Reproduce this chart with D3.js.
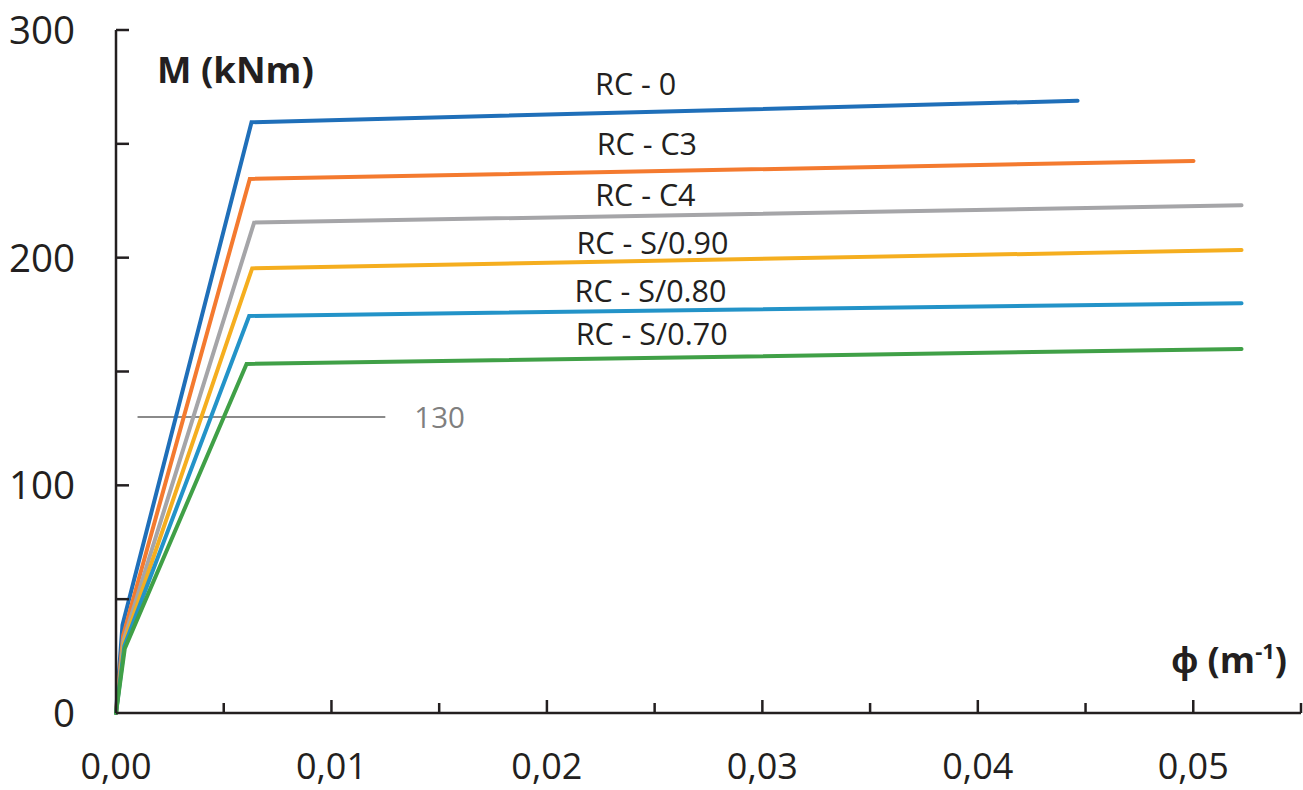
<!DOCTYPE html>
<html>
<head>
<meta charset="utf-8">
<script src="https://cdn.jsdelivr.net/npm/d3@7"></script>
<style>
  html, body { margin: 0; padding: 0; background: #fff; }
  svg { display: block; font-family: "Open Sans", sans-serif; }
</style>
</head>
<body>
<svg id="chart" width="1303" height="790"></svg>
<script>
// ---- data ----
const seriesNames = ["RC - 0", "RC - C3", "RC - C4", "RC - S/0.90", "RC - S/0.80", "RC - S/0.70"];
const seriesColors = ["#1f6fb9", "#f47a2f", "#a5a5a8", "#f5ae1f", "#2393c8", "#40a047"];
// curvature points (m^-1) per series: origin, cracking, yield, ultimate
const phiRC0   = [0, 0.00030, 0.00629, 0.04463];
const mRC0     = [0, 38.6, 259.5, 268.9];
const phiRCC3  = [0, 0.00033, 0.00621, 0.05001];
const mRCC3    = [0, 34, 234.6, 242.5];
const phiRCC4  = [0, 0.00035, 0.00641, 0.05224];
const mRCC4    = [0, 32, 215.4, 223.0];
const phiS090  = [0, 0.00037, 0.00632, 0.05224];
const mS090    = [0, 30.5, 195.3, 203.4];
const phiS080  = [0, 0.00039, 0.00618, 0.05224];
const mS080    = [0, 29.5, 174.4, 180.0];
const phiS070  = [0, 0.00041, 0.00606, 0.05224];
const mS070    = [0, 28.4, 153.3, 159.9];
// label anchor (data coords)
const labelPhi = [0.02412, 0.02464, 0.02457, 0.02490, 0.02481, 0.02486];
const labelM   = [271.5, 245.0, 222.5, 201.5, 180.5, 161.5];
// reference line
const refM = 130;
const refPhi = [0.0010, 0.0125];
// axes
const xTicksMajor = [0, 0.01, 0.02, 0.03, 0.04, 0.05];
const xTickLabels = ["0,00", "0,01", "0,02", "0,03", "0,04", "0,05"];
const xTicksMinor = [0.005, 0.015, 0.025, 0.035, 0.045, 0.055];
const yTicks = [0, 50, 100, 150, 200, 250, 300];
const yTickLabels = ["0", "", "100", "", "200", "", "300"];

const phiArr = [phiRC0, phiRCC3, phiRCC4, phiS090, phiS080, phiS070];
const mArr = [mRC0, mRCC3, mRCC4, mS090, mS080, mS070];

// ---- chart ----
const svg = d3.select("#chart");
const x = d3.scaleLinear().domain([0, 0.055]).range([116, 1301]);
const y = d3.scaleLinear().domain([0, 300]).range([713, 30]);
const axisColor = "#231f20";

// reference line 130
svg.append("line")
  .attr("x1", x(refPhi[0])).attr("x2", x(refPhi[1]))
  .attr("y1", y(refM)).attr("y2", y(refM))
  .attr("stroke", "#8a8a8a").attr("stroke-width", 2);
svg.append("text")
  .attr("x", x(refPhi[1]) + 29).attr("y", y(refM) + 11)
  .attr("font-size", 29.5).attr("fill", "#7f7f7f")
  .text(String(refM));

// series lines
const line = d3.line().x(d => x(d[0])).y(d => y(d[1]));
seriesNames.forEach((name, i) => {
  const pts = phiArr[i].map((p, j) => [p, mArr[i][j]]);
  svg.append("path")
    .datum(pts)
    .attr("d", line)
    .attr("fill", "none")
    .attr("stroke", seriesColors[i])
    .attr("stroke-width", 4)
    .attr("stroke-linejoin", "miter")
    .attr("stroke-linecap", "round");
});

// series labels
seriesNames.forEach((name, i) => {
  svg.append("text")
    .attr("x", x(labelPhi[i])).attr("y", y(labelM[i]))
    .attr("text-anchor", "middle")
    .attr("font-size", 30.5)
    .attr("fill", "#231f20")
    .text(name);
});

// y axis
const yAxis = svg.append("g");
yAxis.append("line")
  .attr("x1", x(0)).attr("x2", x(0))
  .attr("y1", y(300)).attr("y2", y(0))
  .attr("stroke", axisColor).attr("stroke-width", 2.5);
yTicks.forEach((t, i) => {
  if (t > 0) {
    yAxis.append("line")
      .attr("x1", x(0)).attr("x2", x(0) + 13)
      .attr("y1", y(t)).attr("y2", y(t))
      .attr("stroke", axisColor).attr("stroke-width", 2.5);
  }
  if (yTickLabels[i]) {
    yAxis.append("text")
      .attr("x", 75).attr("y", y(t) + 14)
      .attr("text-anchor", "end")
      .attr("font-size", 38.5)
      .attr("fill", axisColor)
      .text(yTickLabels[i]);
  }
});

// x axis
const xAxis = svg.append("g");
xAxis.append("line")
  .attr("x1", x(0)).attr("x2", x(0.055))
  .attr("y1", y(0)).attr("y2", y(0))
  .attr("stroke", axisColor).attr("stroke-width", 2.5);
xTicksMajor.forEach((t, i) => {
  if (t > 0) {
    xAxis.append("line")
      .attr("x1", x(t)).attr("x2", x(t))
      .attr("y1", y(0)).attr("y2", y(0) - 13)
      .attr("stroke", axisColor).attr("stroke-width", 2.5);
  }
  xAxis.append("text")
    .attr("x", x(t)).attr("y", 779)
    .attr("text-anchor", "middle")
    .attr("font-size", 36)
    .attr("fill", axisColor)
    .text(xTickLabels[i]);
});
xTicksMinor.forEach(t => {
  xAxis.append("line")
    .attr("x1", x(t)).attr("x2", x(t))
    .attr("y1", y(0)).attr("y2", y(0) - 10)
    .attr("stroke", axisColor).attr("stroke-width", 2.5);
});

// axis titles
svg.append("text")
  .attr("x", 157).attr("y", 83)
  .attr("font-size", 36.5).attr("font-weight", "bold")
  .attr("fill", axisColor)
  .text("M (kNm)");
const xt = svg.append("text")
  .attr("x", 1287).attr("y", 673)
  .attr("text-anchor", "end")
  .attr("font-size", 36).attr("font-weight", "bold")
  .attr("fill", axisColor);
xt.append("tspan").text("ϕ (m");
xt.append("tspan").attr("font-size", 22).attr("dy", -14).text("-1");
xt.append("tspan").attr("dy", 14).text(")");
</script>
</body>
</html>
